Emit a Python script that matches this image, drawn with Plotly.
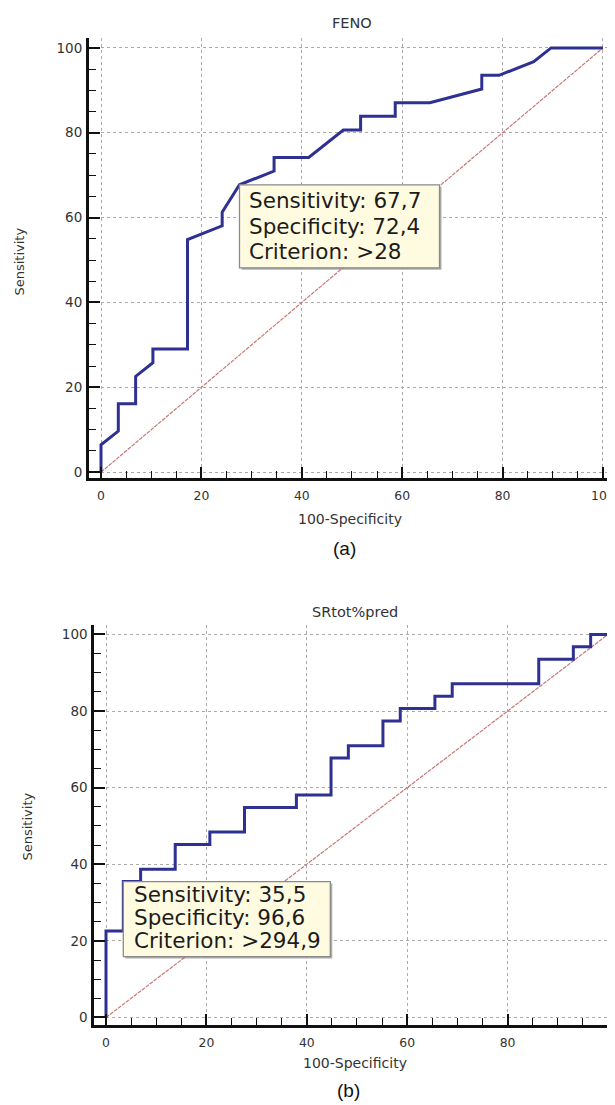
import plotly.graph_objects as go

# ---- data ----
feno_fpr = [0, 0, 3.45, 3.45, 6.90, 6.90, 10.34, 10.34, 17.24, 17.24, 24.14, 24.14, 27.59,
            34.48, 34.48, 41.38, 48.28, 51.72, 51.72, 58.62, 58.62, 65.52, 75.86, 75.86,
            79.31, 86.21, 89.66, 100]
feno_tpr = [0, 6.45, 9.68, 16.13, 16.13, 22.58, 25.81, 29.03, 29.03, 54.84, 58.06, 61.29, 67.74,
            70.97, 74.19, 74.19, 80.65, 80.65, 83.87, 83.87, 87.10, 87.10, 90.32, 93.55,
            93.55, 96.77, 100, 100]

sr_fpr = [0, 0, 3.45, 3.45, 6.90, 6.90, 13.79, 13.79, 20.69, 20.69, 27.59, 27.59, 37.93, 37.93,
          44.83, 44.83, 48.28, 48.28, 55.17, 55.17, 58.62, 58.62, 65.52, 65.52, 68.97, 68.97,
          86.21, 86.21, 93.10, 93.10, 96.55, 96.55, 100]
sr_tpr = [0, 22.58, 22.58, 35.48, 35.48, 38.71, 38.71, 45.16, 45.16, 48.39, 48.39, 54.84, 54.84,
          58.06, 58.06, 67.74, 67.74, 70.97, 70.97, 77.42, 77.42, 80.65, 80.65, 83.87, 83.87,
          87.10, 87.10, 93.55, 93.55, 96.77, 96.77, 100, 100]

diag = [0, 100]

titles = ["FENO", "SRtot%pred"]
captions = ["(a)", "(b)"]
crit_points = [(27.59, 67.74), (3.45, 35.48)]
crit_text = [["Sensitivity: 67,7", "Specificity: 72,4", "Criterion: >28"],
             ["Sensitivity: 35,5", "Specificity: 96,6", "Criterion: >294,9"]]
tick_vals = [0, 20, 40, 60, 80, 100]
tick_text = ["0", "20", "40", "60", "80", "100"]

OFF = 8  # default body margin of the html page
W, H = 615 - OFF, 1105 - OFF
FONT = "DejaVu Sans"
BLUE = "#2e3192"

fig = go.Figure()

def px(x):
    return (x - OFF) / W

def py(y):
    return 1 - (y - OFF) / H

for i, (fx, fy) in enumerate([(feno_fpr, feno_tpr), (sr_fpr, sr_tpr)]):
    xa = "x" if i == 0 else "x2"
    ya = "y" if i == 0 else "y2"
    fig.add_trace(go.Scatter(x=diag, y=diag, mode="lines", xaxis=xa, yaxis=ya,
                             line=dict(color="#c87878", width=1.2, dash="4px,1px"),
                             hoverinfo="skip", showlegend=False))
    fig.add_trace(go.Scatter(x=fx, y=fy, mode="lines", xaxis=xa, yaxis=ya,
                             line=dict(color=BLUE, width=3), showlegend=False))

def axis_common(fsize):
    return dict(
        tickmode="array", tickvals=tick_vals, ticktext=tick_text,
        ticks="inside", ticklen=11, tickwidth=1.5, tickcolor="#111",
        minor=dict(ticks="inside", ticklen=7, dtick=5, tick0=0, tickcolor="#111",
                   tickwidth=1.2, showgrid=False),
        showline=True, linewidth=3, linecolor="#111",
        showgrid=True, gridcolor="#aaaaaa", gridwidth=1, griddash="dot",
        zeroline=False,
        tickfont=dict(family=FONT, size=fsize, color="#333"),
        fixedrange=True,
    )

top = dict(left=89, top=38, bottom=479, xr=[-2.39, 102.4], yr=[-1.41, 102.35])
bot = dict(left=94.3, top=626, bottom=1026.7, xr=[-2.33, 101.4], yr=[-1.93, 102.5])

fig.update_layout(
    xaxis=dict(domain=[px(top["left"]), 1], range=top["xr"], anchor="y",
               ticklabelstandoff=4, **axis_common(12.4)),
    yaxis=dict(domain=[py(top["bottom"]), py(top["top"])], range=top["yr"], anchor="x",
               ticklabelstandoff=1, **axis_common(13.5)),
    xaxis2=dict(domain=[px(bot["left"]), 1], range=bot["xr"], anchor="y2",
                ticklabelstandoff=4, **axis_common(12.4)),
    yaxis2=dict(domain=[py(bot["bottom"]), py(bot["top"])], range=bot["yr"], anchor="x2",
                ticklabelstandoff=1, **axis_common(13.5)),
)

annotations = []
shapes = []

title_pos = [(352, 23), (355, 613)]
xtitle_pos = [(350, 520), (355, 1065)]
ytitle_pos = [(20, 262), (28, 828)]
cap_pos = [(345, 549), (348, 1092)]

def paper_text(text, pos, size, family=FONT, color="#333", angle=0):
    return dict(text=text, x=px(pos[0]), y=py(pos[1]), xref="paper", yref="paper",
                xanchor="center", yanchor="middle", showarrow=False, textangle=angle,
                font=dict(family=family, size=size, color=color))

for i in range(2):
    annotations.append(paper_text(titles[i], title_pos[i], 14.5))
    annotations.append(paper_text("100-Specificity", xtitle_pos[i], 14))
    annotations.append(paper_text("Sensitivity", ytitle_pos[i], 13, angle=-90))
    annotations.append(paper_text(captions[i], cap_pos[i], 19, family="Liberation Sans",
                                  color="#111"))

box_size = [(200, 83), (207, 75)]
line_offsets = [[17.5, 43.5, 68.5], [14.5, 37.5, 60.8]]
text_shift = [8, 9]
for i in range(2):
    cx, cy = crit_points[i]
    xr = "x" if i == 0 else "x2"
    yr = "y" if i == 0 else "y2"
    bw, bh = box_size[i]
    shapes.append(dict(type="rect", xref=xr, yref=yr, xsizemode="pixel", ysizemode="pixel",
                       xanchor=cx, yanchor=cy, x0=2, x1=bw + 2, y0=-bh - 2, y1=-2,
                       fillcolor="rgba(120,120,120,0.6)", line=dict(width=0), layer="above"))
    shapes.append(dict(type="rect", xref=xr, yref=yr, xsizemode="pixel", ysizemode="pixel",
                       xanchor=cx, yanchor=cy, x0=0, x1=bw, y0=-bh, y1=0,
                       fillcolor="#fffbe1", line=dict(color="#8a8a8a", width=1.3), layer="above"))
    for j, t in enumerate(crit_text[i]):
        annotations.append(dict(text=t, x=cx, y=cy, xref=xr, yref=yr, showarrow=False,
                                xanchor="left", yanchor="middle",
                                xshift=text_shift[i], yshift=-line_offsets[i][j] + 2,
                                font=dict(family=FONT, size=21.5, color="#1c1c1c")))

fig.update_layout(
    width=W, height=H,
    margin=dict(l=0, r=0, t=0, b=0),
    paper_bgcolor="white", plot_bgcolor="white",
    annotations=annotations, shapes=shapes,
    showlegend=False,
)

fig.write_html("out.html")
